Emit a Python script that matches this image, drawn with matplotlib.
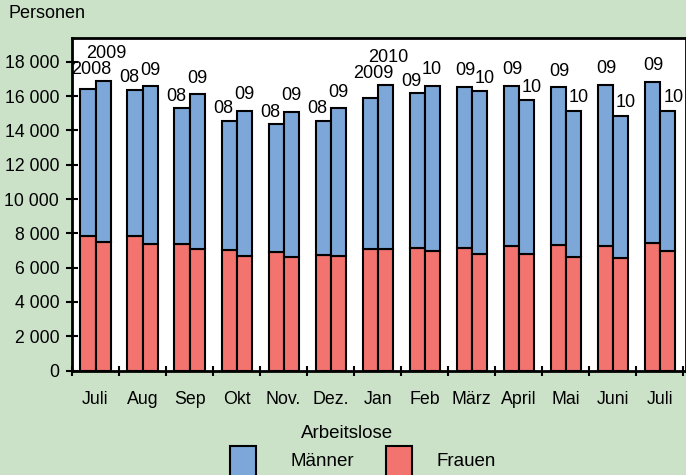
import numpy as np
import matplotlib.pyplot as plt
from matplotlib.patches import Rectangle

plt.rcParams['font.family'] = ['Liberation Sans', 'DejaVu Sans']
plt.rcParams['font.size'] = 12

# Monate Juli 2008/09 bis Juli 2009/10
monate = ['Juli', 'Aug', 'Sep', 'Okt', 'Nov.', 'Dez.', 'Jan', 'Feb', 'März',
          'April', 'Mai', 'Juni', 'Juli']
jahr_vor = ['2008', '08', '08', '08', '08', '08', '2009', '09', '09', '09', '09', '09', '09']
jahr_akt = ['2009', '09', '09', '09', '09', '09', '2010', '10', '10', '10', '10', '10', '10']

# Vorjahr
frauen_vor = [7850, 7850, 7390, 7020, 6900, 6760, 7100, 7150, 7150, 7270, 7300, 7270, 7460]
maenner_vor = [8570, 8520, 7890, 7560, 7450, 7800, 8820, 9030, 9400, 9340, 9210, 9380, 9380]
# aktuelles Jahr
frauen_akt = [7490, 7370, 7060, 6680, 6600, 6680, 7070, 6960, 6800, 6800, 6640, 6570, 6990]
maenner_akt = [9370, 9200, 9040, 8470, 8490, 8600, 9560, 9650, 9500, 8970, 8510, 8300, 8160]

bg = '#cbe2c9'
blau = '#7ca7d8'
rot = '#f3736e'

fig = plt.figure(figsize=(6.86, 4.75), dpi=100, facecolor=bg)
ax = fig.add_axes([72 / 686, 104.4 / 475, 1 - 72 / 686, 332.6 / 475])
ax.set_facecolor('white')

x = np.arange(len(monate))
w = 0.32
x1 = x + 0.5 - w / 2
x2 = x + 0.5 + w / 2

kw = dict(width=w, edgecolor='black', linewidth=1.5)
ax.bar(x1, frauen_vor, color=rot, **kw)
ax.bar(x1, maenner_vor, bottom=frauen_vor, color=blau, **kw)
ax.bar(x2, frauen_akt, color=rot, **kw)
ax.bar(x2, maenner_akt, bottom=frauen_akt, color=blau, **kw)

ax.set_xlim(0, 13.06)
ax.set_ylim(0, 19390)

# Jahresbeschriftungen ueber den Balken
for i in range(len(monate)):
    t1 = frauen_vor[i] + maenner_vor[i]
    t2 = frauen_akt[i] + maenner_akt[i]
    if len(jahr_vor[i]) == 4:
        ref = max(t1, t2)
        p1 = (x1[i], ref, 3, 12)
        p2 = (x2[i], ref, 3, 28)
    elif t1 >= t2:
        p1 = (x1[i], t1, 1, 16)
        p2 = (x2[i], t2, 6, 13)
    else:
        p1 = (x1[i], t1, -6, 12)
        p2 = (x2[i], t2, 0, 16)
    for (px, py, dx, dy), lab in ((p1, jahr_vor[i]), (p2, jahr_akt[i])):
        ax.annotate(lab, (px, py), xytext=(dx, dy), textcoords='offset pixels',
                    ha='center', va='center', fontsize=13)

ax.set_yticks(np.arange(0, 18001, 2000))
ax.set_yticklabels([f'{v:,}'.replace(',', ' ') for v in range(0, 18001, 2000)])
ax.set_xticks(np.arange(0, 14))
ax.set_xticklabels([])
ax.set_xticks(x + 0.5, minor=True)
ax.set_xticklabels(monate, minor=True)
ax.tick_params(axis='y', direction='inout', length=8.5, width=1.5, pad=5, labelsize=12.7)
ax.tick_params(axis='x', which='major', direction='inout', length=7, width=1.5)
ax.tick_params(axis='x', which='minor', length=0, pad=15, labelsize=12.8)
for s in ax.spines.values():
    s.set_linewidth(2)

fig.text(8 / 686, 1 - 14 / 475, 'Personen', ha='left', va='center', fontsize=13)

# Legende
fig.text(347 / 686, 1 - 433 / 475, 'Arbeitslose', ha='center', va='center', fontsize=13.5)
for x0, farbe, name, tx in ((230, blau, 'Männer', 291), (386, rot, 'Frauen', 436)):
    fig.add_artist(Rectangle((x0 / 686, -10 / 475), 26 / 686, 39 / 475,
                             transform=fig.transFigure, facecolor=farbe,
                             edgecolor='black', linewidth=1.5))
    fig.text(tx / 686, 1 - 462 / 475, name, ha='left', va='center', fontsize=13.5)

fig.savefig('out.png', dpi=100, facecolor=bg)
